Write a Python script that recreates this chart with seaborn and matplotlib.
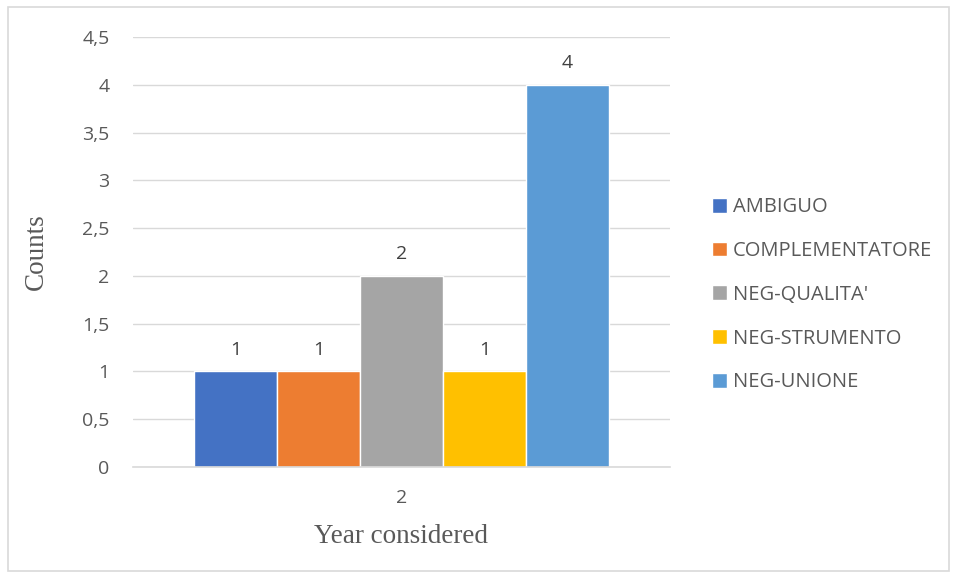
import matplotlib
matplotlib.use("Agg")
import matplotlib.pyplot as plt
import seaborn as sns
import pandas as pd
from matplotlib.ticker import FuncFormatter, MultipleLocator
from matplotlib.patches import Rectangle

categories = ["AMBIGUO", "COMPLEMENTATORE", "NEG-QUALITA'", "NEG-STRUMENTO", "NEG-UNIONE"]
counts = [1, 1, 2, 1, 4]
year = ["2"] * len(categories)
colors = ["#4472C4", "#ED7D31", "#A5A5A5", "#FFC000", "#5B9BD5"]

df = pd.DataFrame({"year": year, "category": categories, "count": counts})

sns.set_style("white")
plt.rcParams["font.family"] = ["Open Sans", "DejaVu Sans"]

fig = plt.figure(figsize=(9.57, 5.78), dpi=100)
ax = fig.add_axes([0.139, 0.192, 0.561, 0.744])

sns.barplot(data=df, x="year", y="count", hue="category", palette=colors,
            width=0.773, gap=0, ax=ax, saturation=1, legend=True, errorbar=None)

tc = "#595959"
for cont in ax.containers:
    ax.bar_label(cont, labels=[f"{int(v)}" for v in cont.datavalues], padding=9,
                 fontsize=14, color="#404040")

ax.set_ylim(0, 4.5)
ax.set_xlim(-0.5, 0.5)
ax.yaxis.set_major_locator(MultipleLocator(0.5))
ax.yaxis.set_major_formatter(FuncFormatter(lambda v, p: (f"{v:g}").replace(".", ",")))
ax.grid(axis="y", color="#D9D9D9", linewidth=1)
ax.set_axisbelow(True)
for s in ["top", "right", "left"]:
    ax.spines[s].set_visible(False)
ax.spines["bottom"].set_color("#D9D9D9")
ax.spines["bottom"].set_linewidth(1.2)
ax.tick_params(axis="y", length=0, pad=17, labelsize=14, labelcolor=tc)
ax.tick_params(axis="x", length=0, pad=16, labelsize=14, labelcolor=tc)

ax.set_ylabel("Counts", fontfamily="Liberation Serif", fontsize=19.5, color=tc, labelpad=24)
ax.set_xlabel("Year considered", fontfamily="Liberation Serif", fontsize=19.5, color=tc, labelpad=12)

leg = ax.legend(loc="center left", bbox_to_anchor=(0.725, 0.49), bbox_transform=fig.transFigure,
                frameon=False, fontsize=14.5, handlelength=0.75, handleheight=0.75,
                handletextpad=0.3, labelspacing=1.18, labelcolor=tc)

fig.patches.append(Rectangle((0.008, 0.012), 0.984, 0.976, transform=fig.transFigure,
                             fill=False, edgecolor="#D9D9D9", linewidth=1.2))

fig.savefig("out.png", dpi=100)
